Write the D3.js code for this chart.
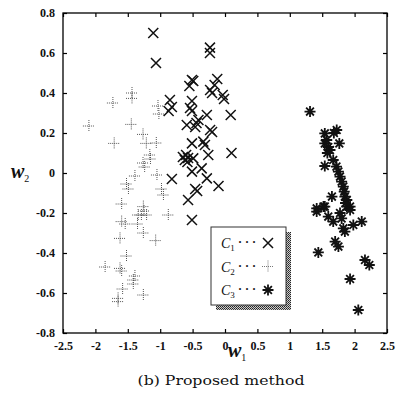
<!DOCTYPE html>
<html><head><meta charset="utf-8">
<script src="https://cdnjs.cloudflare.com/ajax/libs/d3/7.8.5/d3.min.js"></script>
<style>body{margin:0;background:#fff}svg{display:block}</style>
</head><body>
<script>
// ---- data ----
const xTicks = [-2.5,-2,-1.5,-1,-0.5,0,0.5,1,1.5,2,2.5];
const yTicks = [0.8,0.6,0.4,0.2,0,-0.2,-0.4,-0.6,-0.8];
const xTickLabels = ["-2.5","-2","-1.5","-1","-0.5","0","0.5","1","1.5","2","2.5"];
const yTickLabels = ["0.8","0.6","0.4","0.2","0","-0.2","-0.4","-0.6","-0.8"];
const c1 = [
[-1.107,0.70],[-1.065,0.55],[-0.232,0.627],[-0.232,0.60],
[-0.51,0.465],[-0.49,0.46],[-0.55,0.435],[-0.12,0.47],[-0.16,0.44],[-0.23,0.415],[-0.20,0.40],
[-0.035,0.39],[-0.015,0.37],[-0.85,0.365],[-0.82,0.33],[-0.87,0.31],[-0.51,0.36],[-0.54,0.325],[-0.51,0.31],
[-0.28,0.29],[0.088,0.29],[-0.41,0.265],[-0.44,0.25],[-0.59,0.24],[-0.46,0.23],[-0.23,0.215],[-0.20,0.205],
[-0.335,0.157],[-0.31,0.14],[-0.51,0.148],[0.10,0.10],[-0.258,0.09],[-0.65,0.08],[-0.62,0.065],[-0.58,0.055],
[-0.57,0.075],[-0.49,0.073],[-0.60,0.09],[-0.36,0.023],[-0.51,0.007],[-0.82,-0.03],[-0.28,-0.027],
[-0.10,-0.065],[-0.46,-0.08],[-0.43,-0.09],[-0.57,-0.135],[-0.51,-0.235]
];
const c2 = [
[-1.435,0.40],[-1.435,0.373],[-1.73,0.35],[-1.034,0.335],[-1.02,0.295],[-2.1,0.235],[-1.446,0.243],
[-1.265,0.193],[-1.71,0.148],[-1.214,0.148],[-1.06,0.15],[-1.16,0.09],[-1.15,0.07],[-1.265,0.05],
[-1.24,0.03],[-1.39,-0.015],[-1.05,-0.01],[-1.52,-0.055],[-1.49,-0.08],[-0.98,-0.08],[-0.95,-0.11],
[-1.595,-0.155],[-1.26,-0.168],[-1.25,-0.19],[-1.21,-0.21],[-1.29,-0.21],[-1.34,-0.21],[-0.875,-0.21],
[-1.595,-0.243],[-1.54,-0.255],[-1.35,-0.255],[-1.26,-0.30],[-1.62,-0.327],[-1.07,-0.338],[-1.52,-0.415],
[-1.85,-0.47],[-1.62,-0.477],[-1.595,-0.49],[-1.39,-0.515],[-1.415,-0.535],[-1.415,-0.555],[-1.58,-0.58],
[-1.26,-0.61],[-1.65,-0.627],[-1.65,-0.643]
];
const c3 = [
[1.312,0.307],[1.724,0.215],[1.54,0.198],[1.68,0.20],[1.57,0.165],[1.54,0.148],[1.594,0.13],[1.62,0.115],
[1.764,0.148],[1.58,0.10],[1.67,0.065],[1.54,0.035],[1.72,0.032],[1.75,0.007],[1.775,-0.018],[1.80,-0.043],
[1.826,-0.068],[1.84,-0.093],[1.85,-0.118],[1.88,-0.135],[1.93,-0.168],[1.65,-0.118],[1.52,-0.168],
[1.415,-0.177],[1.415,-0.193],[1.54,-0.168],[1.594,-0.218],[1.67,-0.243],[1.775,-0.20],[1.80,-0.227],
[1.88,-0.168],[1.93,-0.185],[1.86,-0.15],[1.826,-0.277],[1.85,-0.293],[1.98,-0.26],[2.11,-0.243],
[1.70,-0.343],[1.75,-0.368],[1.44,-0.397],[2.16,-0.435],[2.227,-0.46],[1.93,-0.53],[2.057,-0.685]
];
const legendLabels = ["1","2","3"];
const caption = "(b) Proposed method";

// ---- layout ----
const W = 398, H = 403;
const L = 63, R = 387, T = 13, B = 333;
const svg = d3.select("body").append("svg").attr("width", W).attr("height", H);
const x = d3.scaleLinear().domain([-2.5, 2.5]).range([L, R]);
const y = d3.scaleLinear().domain([-0.8, 0.8]).range([B, T]);

const defs = svg.append("defs");
const pat = defs.append("pattern").attr("id","stip").attr("width",2).attr("height",2).attr("patternUnits","userSpaceOnUse");
pat.append("rect").attr("width",2).attr("height",2).attr("fill","#ccc");
pat.append("rect").attr("width",1).attr("height",1).attr("fill","#222");
pat.append("rect").attr("x",1).attr("y",1).attr("width",1).attr("height",1).attr("fill","#444");

const tickFont = "'Liberation Serif', 'Times New Roman', serif";

// axes with inward ticks
const axB = d3.axisBottom(x).tickValues(xTicks).tickSize(-4).tickPadding(8).tickFormat((d,i)=>xTickLabels[i]);
const axT = d3.axisTop(x).tickValues(xTicks).tickSize(-4).tickFormat("");
const axL = d3.axisLeft(y).tickValues(yTicks).tickSize(-4).tickPadding(8).tickFormat((d,i)=>yTickLabels[i]);
const axR = d3.axisRight(y).tickValues(yTicks).tickSize(-4).tickFormat("");
function styleAx(g){
  g.select(".domain").remove();
  g.selectAll("line").attr("stroke","#000").attr("stroke-width",1.2);
  g.selectAll("text").attr("font-family",tickFont).attr("font-size",12).attr("font-weight","bold").attr("fill","#111");
}
svg.append("g").attr("transform",`translate(0,${B})`).call(axB).call(styleAx);
svg.append("g").attr("transform",`translate(0,${T})`).call(axT).call(styleAx);
svg.append("g").attr("transform",`translate(${L},0)`).call(axL).call(styleAx);
svg.append("g").attr("transform",`translate(${R},0)`).call(axR).call(styleAx);
svg.append("rect").attr("x",L).attr("y",T).attr("width",R-L).attr("height",B-T)
  .attr("fill","none").attr("stroke","#000").attr("stroke-width",1.3);

// marker shapes
const s = 5;
const pTimes = `M${-s},${-s}L${s},${s}M${-s},${s}L${s},${-s}`;
const sp = 6;
const pPlus = `M${-sp},0L${sp},0M0,${-sp}L0,${sp}`;
const a = 5.5, b = a*0.7071;
const pAst = `M${-a},0L${a},0M0,${-a}L0,${a}M${-b},${-b}L${b},${b}M${-b},${b}L${b},${-b}`;

function drawSet(data, path, stroke, width, dash){
  svg.append("g").selectAll("path").data(data).join("path")
    .attr("d", path)
    .attr("transform", d => `translate(${x(d[0])},${y(d[1])})`)
    .attr("fill","none").attr("stroke",stroke).attr("stroke-width",width)
    .attr("stroke-dasharray", dash || null);
}
drawSet(c2, pPlus, "#555", 1, "1,1");
drawSet(c1, pTimes, "#111", 1.5);
drawSet(c3, pAst, "#111", 1.8);

// legend
const lx = 211, ly = 227, lw = 75, lh = 78;
svg.append("rect").attr("x",lx+5).attr("y",ly+5).attr("width",lw).attr("height",lh).attr("fill","url(#stip)");
svg.append("rect").attr("x",lx).attr("y",ly).attr("width",lw).attr("height",lh).attr("fill","#fff").attr("stroke","#333").attr("stroke-width",1);
const legPaths = [pTimes, pPlus, pAst];
const legStroke = ["#111","#777","#111"];
const legW = [1.5,1,1.8];
const legDash = [null,"1,1",null];
legendLabels.forEach((lab,i)=>{
  const yy = ly + 16 + i*23.5;
  const t = svg.append("text").attr("x",lx+10).attr("y",yy+5)
    .attr("font-family",tickFont).attr("font-size",14).attr("font-style","italic").attr("fill","#111");
  t.append("tspan").text("C");
  t.append("tspan").attr("font-size",9).attr("dy",3).attr("font-style","normal").text(lab);
  svg.append("text").attr("x",lx+27).attr("y",yy+3).attr("font-family",tickFont).attr("font-size",12)
    .attr("font-weight","bold").attr("fill","#111").text("\u00b7 \u00b7 \u00b7");
  svg.append("path").attr("d",legPaths[i]).attr("transform",`translate(${lx+57},${yy})`)
    .attr("fill","none").attr("stroke",legStroke[i]).attr("stroke-width",legW[i]).attr("stroke-dasharray",legDash[i]);
});

// axis titles
const yt = svg.append("text").attr("x",11).attr("y",178).attr("font-family",tickFont)
  .attr("font-size",20).attr("font-weight","bold").attr("font-style","italic").attr("fill","#111");
yt.append("tspan").text("w");
yt.append("tspan").attr("font-size",10).attr("font-style","normal").attr("font-weight","normal").attr("dy",4).text("2");
const xt = svg.append("text").attr("x",228).attr("y",357).attr("font-family",tickFont)
  .attr("font-size",20).attr("font-weight","bold").attr("font-style","italic").attr("fill","#111");
xt.append("tspan").text("w");
xt.append("tspan").attr("font-size",10).attr("font-style","normal").attr("font-weight","normal").attr("dy",4).text("1");

// caption
svg.append("text").attr("x",221).attr("y",385).attr("text-anchor","middle")
  .attr("font-family","'DejaVu Serif', serif").attr("font-size",13.5).attr("fill","#111")
  .attr("textLength",167).attr("lengthAdjust","spacingAndGlyphs").text(caption);
</script>
</body></html>
